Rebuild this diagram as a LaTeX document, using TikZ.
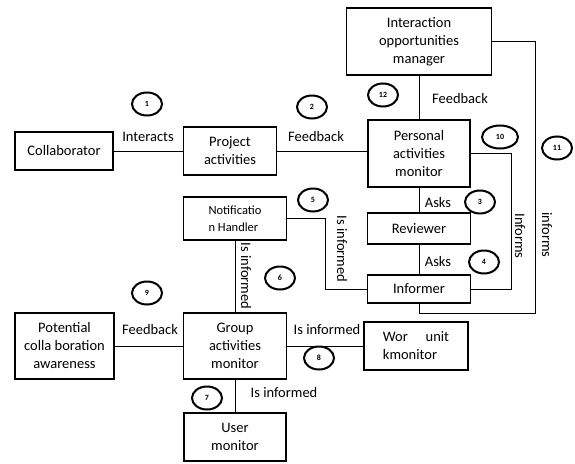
\documentclass[tikz,border=0pt]{standalone}
\usepackage{fontspec}
\setmainfont{Carlito}
\usetikzlibrary{shapes.geometric}
\tikzset{
    box/.style={draw, line width=1.3pt, align=center, inner sep=2pt, font=\fontsize{14.5}{18}\selectfont},
    num/.style={draw, ellipse, line width=2pt, minimum width=30pt, minimum height=23pt, inner sep=0pt, font=\fontsize{8}{8}\selectfont\bfseries},
    lbl/.style={inner sep=1pt, font=\fontsize{14.5}{16}\selectfont},
    link/.style={line width=1pt}
}
\begin{document}
\begin{tikzpicture}[x=1pt, y=-1pt]
    \useasboundingbox (0,0) rectangle (575,463);

    % Kaesten
    \node[box, minimum width=98pt, minimum height=38pt] (collab) at (64,151) {Collaborator};
    \node[box, minimum width=93pt, minimum height=48pt] (proj) at (230,151) {Project\\activities};
    \node[box, minimum width=103pt, minimum height=43pt, align=left, font=\fontsize{12.5}{17}\selectfont] (nh) at (235,218.5) {Notificatio\\n Handler};
    \node[box, minimum width=145pt, minimum height=67pt] (iom) at (419,41.5) {Interaction\\opportunities\\manager};
    \node[box, minimum width=102pt, minimum height=67pt] (pam) at (419,153.5) {Personal\\activities\\monitor};
    \node[box, minimum width=103pt, minimum height=31pt] (rev) at (419,228.5) {Reviewer};
    \node[box, minimum width=103pt, minimum height=28pt] (inf) at (419,289) {Informer};
    \node[box, minimum width=104pt, minimum height=48pt, align=left] (wum) at (416,346) {Wor\quad\ unit\\kmonitor};
    \node[box, minimum width=103pt, minimum height=66pt] (gam) at (235,346) {Group\\activities\\monitor};
    \node[box, minimum width=99pt, minimum height=66pt] (pot) at (64.5,346) {Potential\\colla boration\\awareness};
    \node[box, minimum width=102pt, minimum height=48pt] (user) at (235,437) {User\\monitor};

    % Verbindungen
    \draw[link] (collab) -- (proj);
    \draw[link] (proj.east) -- (proj.east -| pam.west);
    \draw[link] (iom) -- (pam);
    \draw[link] (pam) -- (rev);
    \draw[link] (rev) -- (inf);
    \draw[link] (pam.east) -- ++(41,0) |- (inf.east);
    \draw[link] (iom.east) -| (535,313) -| (inf.south);
    \draw[link] (nh.east) -- ++(38.5,0) |- (inf.west);
    \draw[link] (nh) -- (gam);
    \draw[link] (pot) -- (gam);
    \draw[link] (gam) -- (wum);
    \draw[link] (gam) -- (user);

    % Beschriftungen
    \node[lbl] (tInteracts) at (148,137) {Interacts};
    \node[lbl] (tFeedbackA) at (316,137) {Feedback};
    \node[lbl] (tFeedbackB) at (460,99) {Feedback};
    \node[lbl] (tAsksA) at (438,203) {Asks};
    \node[lbl] (tAsksB) at (438,262) {Asks};
    \node[lbl, rotate=-90] (tInformsA) at (520,236) {Informs};
    \node[lbl, rotate=-90] (tInformsB) at (547,235) {informs};
    \node[lbl, rotate=-90] (tIsInfA) at (342,249) {Is informed};
    \node[lbl, rotate=-90] (tIsInfB) at (246,276) {Is informed};
    \node[lbl] (tFeedbackC) at (150,330) {Feedback};
    \node[lbl] (tIsInfC) at (327,330) {Is informed};
    \node[lbl] (tIsInfD) at (284,393) {Is informed};

    % Nummern
    \node[num] (c1) at (147,104) {1};
    \node[num] (c2) at (312,107) {2};
    \node[num] (c3) at (480,202) {3};
    \node[num] (c4) at (484,262) {4};
    \node[num] (c5) at (313,200) {5};
    \node[num] (c6) at (280,278) {6};
    \node[num] (c7) at (207,398) {7};
    \node[num] (c8) at (319,358) {8};
    \node[num] (c9) at (147,293) {9};
    \node[num, minimum width=36pt] (c10) at (500,137) {10};
    \node[num] (c11) at (557,148) {11};
    \node[num] (c12) at (383,95) {12};
\end{tikzpicture}
\end{document}
